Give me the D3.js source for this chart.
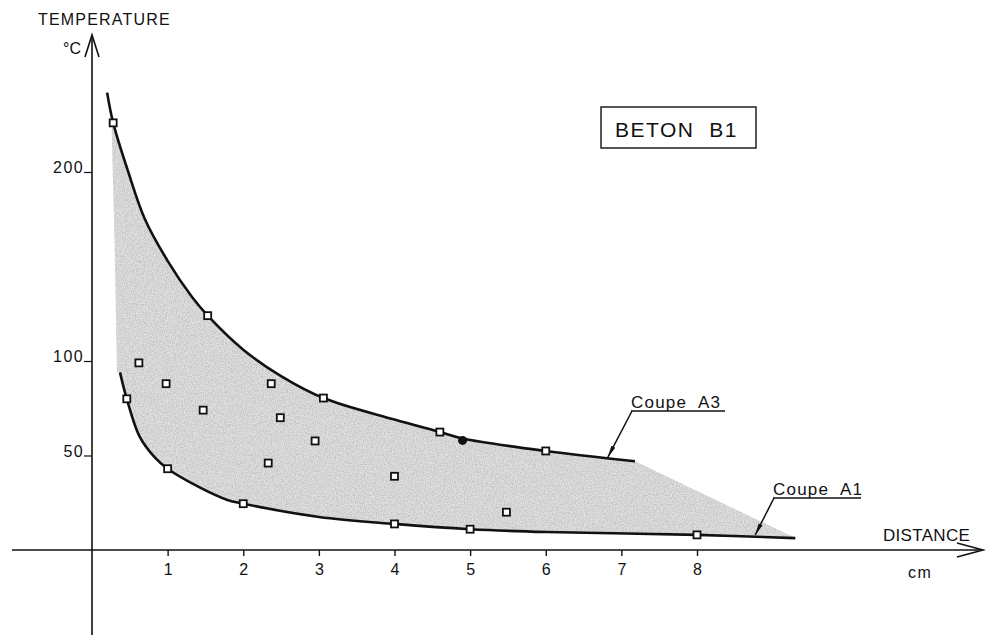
<!DOCTYPE html>
<html>
<head>
<meta charset="utf-8">
<script src="https://cdn.jsdelivr.net/npm/d3@7"></script>
<style>
  body { margin: 0; background: #fff; }
  svg text { font-family: "Liberation Sans", Arial, sans-serif; fill: #111; }
</style>
</head>
<body>
<svg id="chart" width="988" height="635"></svg>
<script>
// courbe Coupe A3 (haut)
const upperX = [0.2, 0.28, 0.48, 0.70, 1.0, 1.32, 1.53, 2.0, 2.5, 3.06, 4.0, 4.6, 4.9, 6.0, 7.18];
const upperT = [242, 226, 200, 175, 153, 134, 124, 106, 92, 80.4, 69, 62.4, 59, 52.4, 47];
// courbe Coupe A1 (bas)
const lowerX = [0.37, 0.46, 0.63, 0.83, 1.0, 1.43, 1.79, 2.0, 3.0, 4.0, 5.0, 6.0, 8.0, 9.3];
const lowerT = [94, 80, 60, 49, 43, 33, 26.5, 24.5, 17.5, 13.8, 11, 9.5, 8, 6.3];
// bord gauche de la zone grisee
const edgeX = [0.33, 0.30, 0.26];
const edgeT = [94, 160, 222];
// points de mesure (carres)
const pointsX = [0.28, 1.53, 3.06, 4.6, 6.0, 0.46, 1.0, 2.0, 4.0, 5.0, 8.0,
                 0.62, 0.98, 1.47, 2.37, 2.49, 2.33, 2.95, 4.0, 5.48];
const pointsT = [226, 124, 80.4, 62.4, 52.4, 80, 43, 24.5, 13.8, 11, 8,
                 99, 88, 74, 88, 70, 46, 57.7, 39, 20];
const dotX = [4.9];
const dotT = [58];
const xTicks = [1, 2, 3, 4, 5, 6, 7, 8];
const yTicks = [50, 100, 200];

const svg = d3.select("#chart");
const x = d3.scaleLinear().domain([0, 8]).range([92, 697]);
const y = d3.scaleLinear().domain([0, 200]).range([550, 172]);

const zip = (a, b) => a.map((v, i) => [v, b[i]]);
const upper = zip(upperX, upperT);
const lower = zip(lowerX, lowerT);
const edge = zip(edgeX, edgeT);

const line = d3.line()
  .x(d => x(d[0]))
  .y(d => y(d[1]))
  .curve(d3.curveCatmullRom);

// texture pointillee
const defs = svg.append("defs");
const f = defs.append("filter").attr("id", "grain")
  .attr("x", 0).attr("y", 0).attr("width", 1).attr("height", 1);
f.append("feTurbulence").attr("type", "fractalNoise")
  .attr("baseFrequency", 0.9).attr("numOctaves", 2).attr("seed", 4).attr("result", "n");
f.append("feColorMatrix").attr("in", "n").attr("type", "matrix")
  .attr("values", "0 0 0 0 0.3  0 0 0 0 0.3  0 0 0 0 0.3  0 0 0 -3 1.9").attr("result", "dots");
f.append("feComposite").attr("in", "dots").attr("in2", "SourceGraphic").attr("operator", "in");

defs.append("marker").attr("id", "arrow")
  .attr("viewBox", "0 0 12 6").attr("refX", 12).attr("refY", 3)
  .attr("markerWidth", 12).attr("markerHeight", 6).attr("markerUnits", "userSpaceOnUse")
  .attr("orient", "auto")
  .append("path").attr("d", "M0,0.8 L12,3 L0,5.2 Z").attr("fill", "#111");

// zone grisee
const shadePath = line(upper.slice(1))
  + line(lower.slice().reverse()).replace(/^M/, "L")
  + d3.line().x(d => x(d[0])).y(d => y(d[1]))(edge).replace(/^M/, "L") + "Z";
svg.append("path").attr("d", shadePath).attr("fill", "#e0e0e0");
svg.append("path").attr("d", shadePath).attr("fill", "#000")
  .attr("filter", "url(#grain)").attr("opacity", 0.35);

// axes
const ax = svg.append("g").attr("stroke", "#111").attr("stroke-width", 1.6).attr("fill", "none");
ax.append("line").attr("x1", 12).attr("x2", 983).attr("y1", y(0)).attr("y2", y(0));
ax.append("path").attr("d", `M957,543 L983,${y(0)} L957,557`);
ax.append("line").attr("x1", x(0)).attr("x2", x(0)).attr("y1", 35).attr("y2", 635);
ax.append("path").attr("d", `M85,57 L${x(0)},35 L99,57`);

const xAxis = svg.append("g").attr("transform", `translate(0,${y(0)})`)
  .call(d3.axisBottom(x).tickValues(xTicks).tickSize(6).tickPadding(8).tickFormat(d3.format("d")));
xAxis.select(".domain").remove();
xAxis.selectAll("line").attr("stroke", "#111").attr("stroke-width", 1.4);
xAxis.selectAll("text").attr("font-size", 16).attr("fill", "#111");

const yAxis = svg.append("g").attr("transform", `translate(${x(0)},0)`)
  .call(d3.axisLeft(y).tickValues(yTicks).tickSize(8).tickPadding(0).tickFormat(d3.format("d")));
yAxis.select(".domain").remove();
yAxis.selectAll("line").attr("stroke", "#111").attr("stroke-width", 1.2);
yAxis.selectAll("text").attr("font-size", 16).attr("letter-spacing", 1.4).attr("fill", "#111")
  .attr("dy", "0.05em");

// courbes
svg.append("path").attr("d", line(upper)).attr("fill", "none")
  .attr("stroke", "#111").attr("stroke-width", 2.6);
svg.append("path").attr("d", line(lower)).attr("fill", "none")
  .attr("stroke", "#111").attr("stroke-width", 2.6);

// points
svg.append("g").selectAll("rect")
  .data(zip(pointsX, pointsT))
  .join("rect")
  .attr("x", d => x(d[0]) - 3.5).attr("y", d => y(d[1]) - 3.5)
  .attr("width", 7).attr("height", 7)
  .attr("fill", "#fff").attr("stroke", "#111").attr("stroke-width", 1.8);
svg.append("g").selectAll("circle")
  .data(zip(dotX, dotT))
  .join("circle")
  .attr("cx", d => x(d[0])).attr("cy", d => y(d[1])).attr("r", 4.5)
  .attr("fill", "#111");

// textes
svg.append("text").attr("x", 38).attr("y", 25).attr("font-size", 16)
  .attr("letter-spacing", 1.2).text("TEMPERATURE");
svg.append("text").attr("x", 63).attr("y", 54).attr("font-size", 16).text("°C");
svg.append("text").attr("x", 883).attr("y", 541).attr("font-size", 17)
  .attr("letter-spacing", 0.3).text("DISTANCE");
svg.append("text").attr("x", 908).attr("y", 578).attr("font-size", 16)
  .attr("letter-spacing", 1.5).text("cm");

svg.append("rect").attr("x", 601).attr("y", 107).attr("width", 155).attr("height", 41)
  .attr("fill", "none").attr("stroke", "#111").attr("stroke-width", 1.4);
svg.append("text").attr("x", 615).attr("y", 137).attr("font-size", 21)
  .attr("letter-spacing", 1.5).style("white-space", "pre").text("BETON  B1");

// etiquettes des coupes
function label(txt, tx, ty, w, tip) {
  svg.append("text").attr("x", tx).attr("y", ty).attr("font-size", 17)
    .attr("letter-spacing", 1.2).style("white-space", "pre").text(txt);
  svg.append("line").attr("x1", tx).attr("x2", tx + w).attr("y1", ty + 3).attr("y2", ty + 3)
    .attr("stroke", "#111").attr("stroke-width", 1.3);
  svg.append("line").attr("x1", tx + 1).attr("y1", ty + 3)
    .attr("x2", x(tip[0])).attr("y2", y(tip[1]))
    .attr("stroke", "#111").attr("stroke-width", 1.5).attr("marker-end", "url(#arrow)");
}
label("Coupe  A3", 631, 408, 94, [6.82, 49]);
label("Coupe  A1", 773, 495, 88, [8.77, 8]);
</script>
</body>
</html>
